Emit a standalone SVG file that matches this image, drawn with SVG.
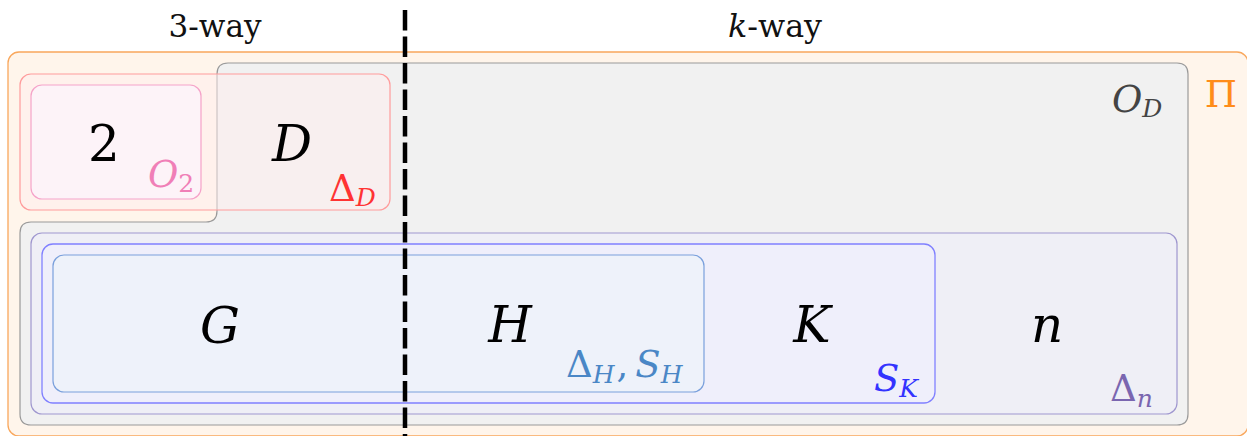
<svg xmlns="http://www.w3.org/2000/svg" width="1247" height="436" viewBox="0 0 1247 436">
<style>
text{font-family:'DejaVu Serif','Liberation Serif',serif}
.m{font-style:italic}
.r{font-style:normal}
.big{font-size:50px;fill:#000;text-anchor:middle}
.lab{font-size:37px}
.sub{font-size:25px}
.hdr{font-size:31px;fill:#111;text-anchor:middle}
</style>
<rect width="1247" height="436" fill="#fff"/>
<g id="Pi">
<rect x="8" y="52" width="1240" height="384" rx="11" fill="#fff5eb" stroke="#f9a75c" stroke-width="1.3"/>
<text class="r lab" x="1221" y="107" fill="#ff8c1a" text-anchor="middle">Π</text>
</g>
<g id="OD">
<path d="M228,63 H1177 Q1188,63 1188,74 V414 Q1188,425 1177,425 H31 Q20,425 20,414 V233 Q20,222 31,222 H206 Q217,222 217,211 V74 Q217,63 228,63 Z" fill="#f1f1f1" stroke="#9a9a9a" stroke-width="1.2"/>
<text x="1112" y="112" fill="#444"><tspan class="m lab">O</tspan><tspan class="m sub" dy="5">D</tspan></text>
</g>
<g id="DeltaD">
<rect x="20" y="74" width="370" height="136" rx="11" fill="#ffeeee" fill-opacity="0.5" stroke="#ff9c9c" stroke-width="1.2"/>
<text class="m big" x="292" y="161">D</text>
<text x="329" y="201" fill="#ff3333"><tspan class="r lab">Δ</tspan><tspan class="m sub" dy="5">D</tspan></text>
</g>
<g id="O2">
<rect x="31" y="85" width="170" height="114" rx="11" fill="#fdf3f8" stroke="#f5a3c9" stroke-width="1.2"/>
<text class="r big" x="104" y="161">2</text>
<text x="148" y="187" fill="#f07fb7"><tspan class="m lab">O</tspan><tspan class="r sub" dy="5">2</tspan></text>
</g>
<g id="Deltan">
<rect x="31" y="233" width="1146" height="181" rx="11" fill="#efeff6" stroke="#9f97cf" stroke-width="1.2"/>
<text class="m big" x="1047" y="342">n</text>
<text x="1110" y="401" fill="#7a66b0"><tspan class="r lab">Δ</tspan><tspan class="m sub" dy="6">n</tspan></text>
</g>
<g id="SK">
<rect x="42" y="244" width="893" height="159" rx="11" fill="#efeffb" stroke="#8080ff" stroke-width="1.3"/>
<text class="m big" x="812" y="342">K</text>
<text x="874" y="391" fill="#3333ff"><tspan class="m lab">S</tspan><tspan class="m sub" dy="6">K</tspan></text>
</g>
<g id="H">
<rect x="53" y="255" width="651" height="137" rx="11" fill="#eef2fa" stroke="#7aa0dc" stroke-width="1.2"/>
<text class="m big" x="220" y="343">G</text>
<text class="m big" x="510" y="342">H</text>
<text x="566" y="377" fill="#4a87c6"><tspan class="r lab">Δ</tspan><tspan class="m sub" dy="6">H</tspan><tspan class="r lab" dy="-6" dx="2">,</tspan><tspan class="m lab" dx="7">S</tspan><tspan class="m sub" dy="6">H</tspan></text>
</g>
<g id="headers">
<text class="r hdr" x="215" y="37" textLength="93" lengthAdjust="spacingAndGlyphs">3-way</text>
<text class="hdr" x="775" y="37" textLength="94" lengthAdjust="spacingAndGlyphs"><tspan class="m">k</tspan><tspan class="r">-way</tspan></text>
</g>
<g id="connectors">
<line x1="405" y1="10" x2="405" y2="436" stroke="#000" stroke-width="4.5" stroke-dasharray="20.5 6"/>
</g>
</svg>
